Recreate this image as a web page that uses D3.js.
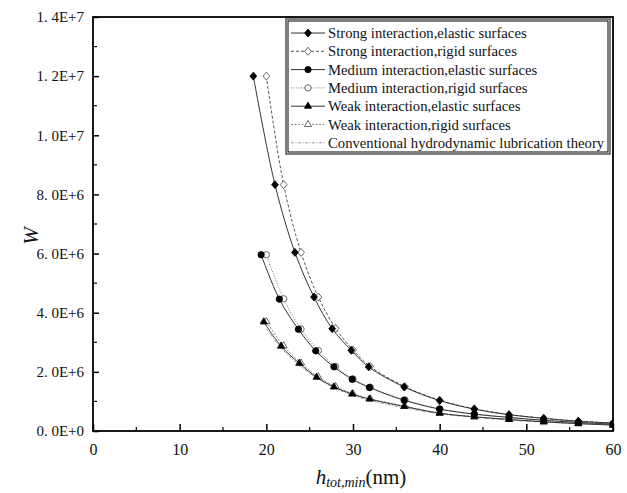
<!DOCTYPE html>
<html>
<head>
<meta charset="utf-8">
<script src="https://cdn.jsdelivr.net/npm/d3@7"></script>
<style>
body { margin: 0; background: #fff; }
text { font-family: "Liberation Serif", "Times New Roman", serif; fill: #111; }
</style>
</head>
<body>
<div id="chart"></div>
<script>
// W against h_tot,min for three interaction strengths

const svgWidth = 627
const svgHeight = 493

// h_tot,min (nm)
var hRigid = [20, 22, 24, 26, 28, 30, 32, 36, 40, 44, 48, 52, 56, 60]
var hStrongElastic = [18.5, 21.0, 23.3, 25.5, 27.6, 29.8, 31.8, 35.9, 40, 44, 48, 52, 56, 60]
var hMediumElastic = [19.4, 21.5, 23.7, 25.7, 27.8, 29.9, 31.9, 35.9, 40, 44, 48, 52, 56, 60]
var hWeakElastic = [19.7, 21.7, 23.8, 25.8, 27.8, 29.9, 31.9, 35.9, 40, 44, 48, 52, 56, 60]

// W values
var wStrongElastic = [1.2e7, 8.33e6, 6.04e6, 4.53e6, 3.46e6, 2.73e6, 2.17e6, 1.49e6, 1.03e6, 7.4e5, 5.5e5, 4.3e5, 3.3e5, 2.7e5]
var wStrongRigid = [1.2e7, 8.33e6, 6.04e6, 4.53e6, 3.47e6, 2.74e6, 2.18e6, 1.50e6, 1.04e6, 7.5e5, 5.6e5, 4.3e5, 3.3e5, 2.7e5]
var wMediumElastic = [5.96e6, 4.46e6, 3.44e6, 2.71e6, 2.17e6, 1.75e6, 1.47e6, 1.04e6, 7.4e5, 5.7e5, 4.6e5, 3.6e5, 2.9e5, 2.3e5]
var wMediumRigid = [5.96e6, 4.47e6, 3.45e6, 2.72e6, 2.18e6, 1.76e6, 1.48e6, 1.05e6, 7.5e5, 5.7e5, 4.6e5, 3.6e5, 2.9e5, 2.3e5]
var wWeakElastic = [3.69e6, 2.87e6, 2.29e6, 1.82e6, 1.49e6, 1.25e6, 1.08e6, 8.3e5, 6.0e5, 4.8e5, 3.9e5, 3.1e5, 2.5e5, 2.0e5]
var wWeakRigid = [3.70e6, 2.88e6, 2.30e6, 1.83e6, 1.50e6, 1.26e6, 1.09e6, 8.4e5, 6.1e5, 4.8e5, 3.9e5, 3.1e5, 2.5e5, 2.0e5]
var wConventional = [3.45e6, 2.72e6, 2.18e6, 1.76e6, 1.44e6, 1.20e6, 1.03e6, 7.8e5, 5.8e5, 4.6e5, 3.7e5, 3.0e5, 2.5e5, 2.1e5]

var seriesNames = [
    "Strong interaction,elastic surfaces",
    "Strong interaction,rigid surfaces",
    "Medium interaction,elastic surfaces",
    "Medium interaction,rigid surfaces",
    "Weak interaction,elastic surfaces",
    "Weak interaction,rigid surfaces",
    "Conventional hydrodynamic lubrication theory"
]

var xTicks = [0, 10, 20, 30, 40, 50, 60]
var xTickLabels = ["0", "10", "20", "30", "40", "50", "60"]
var yTicks = [0, 2e6, 4e6, 6e6, 8e6, 1e7, 1.2e7, 1.4e7]
var yTickLabels = ["0. 0E+0", "2. 0E+6", "4. 0E+6", "6. 0E+6", "8. 0E+6", "1. 0E+7", "1. 2E+7", "1. 4E+7"]

var series = [
    {h: hStrongElastic, w: wStrongElastic, marker: "diamond", fill: true,  dash: null,      color: "#333"},
    {h: hRigid,         w: wStrongRigid,   marker: "diamond", fill: false, dash: "3,2",     color: "#555"},
    {h: hMediumElastic, w: wMediumElastic, marker: "circle",  fill: true,  dash: null,      color: "#333"},
    {h: hRigid,         w: wMediumRigid,   marker: "circle",  fill: false, dash: "1,1.5",   color: "#777"},
    {h: hWeakElastic,   w: wWeakElastic,   marker: "triangle",fill: true,  dash: null,      color: "#333"},
    {h: hRigid,         w: wWeakRigid,     marker: "triangle",fill: false, dash: "2,1.5",   color: "#888"},
    {h: hRigid,         w: wConventional,  marker: null,      fill: false, dash: "3,1.5,1,1.5", color: "#999"}
]

var svg = d3.select("#chart")
    .append("svg")
    .attr("width", svgWidth)
    .attr("height", svgHeight)

var x = d3.scaleLinear().domain([0, 60]).range([93, 613])
var y = d3.scaleLinear().domain([0, 1.4e7]).range([431, 17])

// clip so the lines stop at the frame
svg.append("clipPath").attr("id", "plotclip")
    .append("rect").attr("x", 93).attr("y", 17).attr("width", 520).attr("height", 414)

// marker shapes (diamond a bit squarer than d3's own)
var symbols = {
    diamond: function() { return "M0,-4L3.4,0L0,4L-3.4,0Z" },
    circle: d3.symbol().type(d3.symbolCircle).size(32),
    triangle: d3.symbol().type(d3.symbolTriangle).size(22)
}

function drawMarker(g, s, px, py) {
    if (!s.marker) return
    g.append("path")
        .attr("d", symbols[s.marker]())
        .attr("transform", "translate(" + px + "," + py + ")")
        .style("fill", s.fill ? "#000" : "#fff")
        .style("stroke", s.fill ? "#000" : "#444")
        .style("stroke-width", 0.8)
}

var line = d3.line()
    .x(function(d) { return x(d[0]) })
    .y(function(d) { return y(d[1]) })
    .curve(d3.curveCatmullRom)

var plot = svg.append("g").attr("clip-path", "url(#plotclip)")

// draw rigid / theory lines first, elastic on top
var order = [6, 5, 3, 1, 4, 2, 0]
order.forEach(function(k) {
    var s = series[k]
    var pts = s.h.map(function(h, i) { return [h, s.w[i]] })
    plot.append("path")
        .attr("d", line(pts))
        .style("fill", "none")
        .style("stroke", s.color)
        .style("stroke-width", 1)
        .style("stroke-dasharray", s.dash)
    pts.forEach(function(p) {
        drawMarker(plot, s, x(p[0]), y(p[1]))
    })
})

// axes, ticks pointing inwards
var xAxis = d3.axisBottom(x).tickValues(xTicks).tickSize(-7).tickSizeOuter(0)
    .tickFormat(function(d, i) { return xTickLabels[i] })
var gx = svg.append("g").attr("transform", "translate(0,431)").call(xAxis)
gx.selectAll("text").attr("y", 10).attr("dy", "0.9em")
    .style("font-size", "16px").style("font-family", "'Liberation Serif', serif")
gx.select(".domain").remove()
gx.selectAll("line").style("stroke-width", 1.5)

var xMinor = d3.range(5, 60, 10)
svg.selectAll(".xminor").data(xMinor).enter().append("line")
    .attr("x1", function(d) { return x(d) }).attr("x2", function(d) { return x(d) })
    .attr("y1", 431).attr("y2", 427)
    .style("stroke", "#000").style("stroke-width", 1.2)

var yAxis = d3.axisLeft(y).tickValues(yTicks).tickSize(-6).tickSizeOuter(0)
    .tickFormat(function(d, i) { return yTickLabels[i] })
var gy = svg.append("g").attr("transform", "translate(93,0)").call(yAxis)
gy.selectAll("text").attr("x", -9)
    .style("font-size", "15px").style("font-family", "'Liberation Serif', serif")
gy.select(".domain").remove()
gy.selectAll("line").style("stroke-width", 1.5)

var yMinor = d3.range(1e6, 1.4e7, 2e6)
svg.selectAll(".yminor").data(yMinor).enter().append("line")
    .attr("x1", 93).attr("x2", 97)
    .attr("y1", function(d) { return y(d) }).attr("y2", function(d) { return y(d) })
    .style("stroke", "#000").style("stroke-width", 1.2)

// frame
svg.append("rect")
    .attr("x", 93).attr("y", 17).attr("width", 520).attr("height", 414)
    .style("fill", "none").style("stroke", "#000").style("stroke-width", 1.8)

// axis titles
var xt = svg.append("text").attr("x", 361).attr("y", 484).attr("text-anchor", "middle")
    .style("font-size", "21px")
xt.append("tspan").style("font-style", "italic").text("h")
xt.append("tspan").style("font-style", "italic").style("font-size", "14px").attr("dy", 3).text("tot,min")
xt.append("tspan").attr("dy", -3).text("(nm)")

svg.append("text")
    .attr("transform", "translate(38,236) rotate(-90)")
    .attr("text-anchor", "middle")
    .style("font-size", "21px").style("font-style", "italic")
    .text("W")

// legend
var lg = svg.append("g")
lg.append("rect").attr("x", 286).attr("y", 19).attr("width", 324).attr("height", 135)
    .style("fill", "#fff").style("stroke", "#555").style("stroke-width", 1.5)
lg.append("rect").attr("x", 288).attr("y", 21).attr("width", 320).attr("height", 131)
    .style("fill", "none").style("stroke", "#000").style("stroke-width", 1)

seriesNames.forEach(function(name, i) {
    var s = series[i]
    var cy = 33 + i * 18.3
    lg.append("line").attr("x1", 291).attr("x2", 325).attr("y1", cy).attr("y2", cy)
        .style("stroke", s.color).style("stroke-width", 1)
        .style("stroke-dasharray", s.dash)
    drawMarker(lg, s, 308, cy)
    lg.append("text").attr("x", 328).attr("y", cy + 5)
        .style("font-size", "14.7px")
        .text(name)
})
</script>
</body>
</html>
